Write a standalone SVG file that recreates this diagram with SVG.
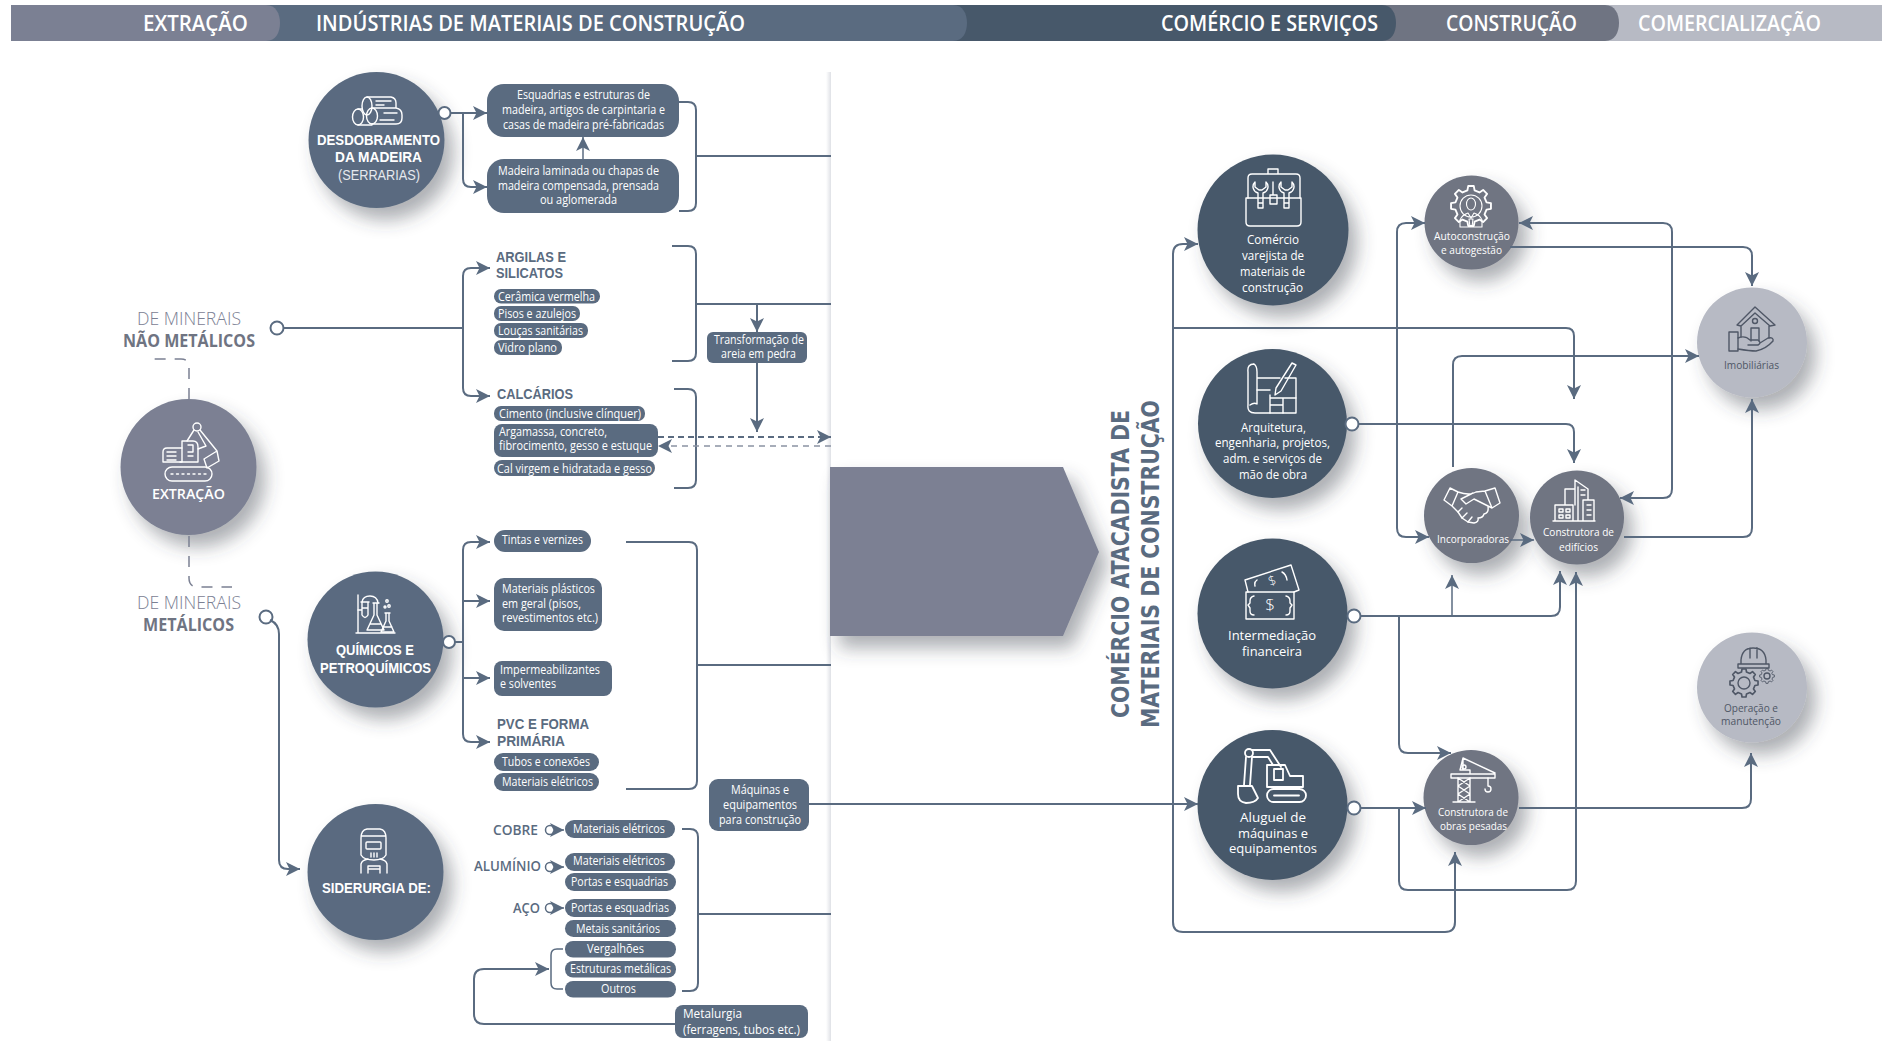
<svg xmlns="http://www.w3.org/2000/svg" width="1882" height="1041" viewBox="0 0 1882 1041">
<style>
text{font-family:"Open Sans","Noto Sans","Liberation Sans",sans-serif}
.h{font-size:21px;font-weight:600;fill:#fff}
.b{font-size:12.5px;fill:#fff}
.c{font-size:13.5px;fill:#fff}
.s{font-size:10.5px;fill:#fff}
.sd{font-size:10.5px;fill:#4f5766}
.nh{font-family:"Liberation Sans",sans-serif;font-size:15px;font-weight:700;fill:#fff}
.nl{font-family:"Liberation Sans",sans-serif;font-size:15px;font-weight:400;fill:#e6e9ee}
.g{font-family:"Liberation Sans",sans-serif;font-size:14.200px;font-weight:700;fill:#5a6b80}
.m{font-size:18.5px;font-weight:300;fill:#7b8093}
.mb{font-size:18.5px;font-weight:700;fill:#6f7482}
.l{font-size:14px;font-weight:600;fill:#5a6b80}
.v{font-family:"DejaVu Sans",sans-serif;font-size:25px;font-weight:700;fill:#5a6b80}
.box{fill:#5a6b80}
.dark{fill:#47586a}
.mid{fill:#6f7482}
.light{fill:#b7bac4}
.ex{fill:#7b8093}
.ln{fill:none;stroke:#5a6b80;stroke-width:2}
.th{fill:none;stroke:#5a6b80;stroke-width:1.5}
.a{marker-end:url(#ar)}
.a2{marker-start:url(#ar);marker-end:url(#ar)}
.o{fill:#fff;stroke:#5a6b80;stroke-width:2}
.ic{fill:none;stroke:#fff;stroke-width:1.4;stroke-linejoin:round;stroke-linecap:round}
.icd{fill:none;stroke:#4f5766;stroke-width:1.4;stroke-linejoin:round;stroke-linecap:round}
</style>
<defs>
<filter id="sh" x="-40%" y="-40%" width="190%" height="190%"><feDropShadow dx="9" dy="12" stdDeviation="9" flood-color="#3a4250" flood-opacity=".42"/></filter>
<linearGradient id="edge" x1="0" x2="1" y1="0" y2="0"><stop offset="0" stop-color="#fff"/><stop offset="1" stop-color="#dfe1e6"/></linearGradient>
<marker id="ar" viewBox="0 0 14 14" refX="14" refY="7" markerUnits="userSpaceOnUse" markerWidth="15" markerHeight="14" orient="auto-start-reverse"><path d="M0,0 L14,7 L0,14 L3.5,7Z" fill="#5a6b80"/></marker>
<polygon id="gear" points="9.26,-2.14 11.88,-1.67 11.88,1.67 9.26,2.14 8.06,5.03 9.58,7.22 7.22,9.58 5.03,8.06 2.14,9.26 1.67,11.88 -1.67,11.88 -2.14,9.26 -5.03,8.06 -7.22,9.58 -9.58,7.22 -8.06,5.03 -9.26,2.14 -11.88,1.67 -11.88,-1.67 -9.26,-2.14 -8.06,-5.03 -9.58,-7.22 -7.22,-9.58 -5.03,-8.06 -2.14,-9.26 -1.67,-11.88 1.67,-11.88 2.14,-9.26 5.03,-8.06 7.22,-9.58 9.58,-7.22 8.06,-5.03"/>
</defs>

<g id="header">
<rect x="11" y="5" width="1871" height="36" fill="#b7bac4"/>
<path d="M11 5 H1605 C1615 5 1619 14 1619 23 C1619 32 1615 41 1605 41 H11Z" fill="#6f7482"/>
<path d="M11 5 H1382 C1392 5 1396 14 1396 23 C1396 32 1392 41 1382 41 H11Z" fill="#47586a"/>
<path d="M11 5 H953 C963 5 967 14 967 23 C967 32 963 41 953 41 H11Z" fill="#5a6b80"/>
<path d="M11 5 H266 C276 5 280 14 280 23 C280 32 276 41 266 41 H11Z" fill="#7b8093"/>
<text class="h" x="143" y="31" textLength="105" lengthAdjust="spacingAndGlyphs">EXTRAÇÃO</text>
<text class="h" x="316" y="31" textLength="429" lengthAdjust="spacingAndGlyphs">INDÚSTRIAS DE MATERIAIS DE CONSTRUÇÃO</text>
<text class="h" x="1161" y="31" textLength="217" lengthAdjust="spacingAndGlyphs">COMÉRCIO E SERVIÇOS</text>
<text class="h" x="1446" y="31" textLength="131" lengthAdjust="spacingAndGlyphs">CONSTRUÇÃO</text>
<text class="h" x="1638" y="31" textLength="183" lengthAdjust="spacingAndGlyphs">COMERCIALIZAÇÃO</text>
</g>

<g id="panel-edge"><rect x="826" y="72" width="5" height="969" fill="url(#edge)"/></g>

<g id="big-arrow"><polygon class="ex" filter="url(#sh)" points="830,467 1063,467 1099,552 1063,636 830,636"/></g>

<g id="vertical-title">
<text class="v" transform="translate(1129,718) rotate(-90)" textLength="308" lengthAdjust="spacingAndGlyphs">COMÉRCIO ATACADISTA DE</text>
<text class="v" transform="translate(1159,728) rotate(-90)" textLength="328" lengthAdjust="spacingAndGlyphs">MATERIAIS DE CONSTRUÇÃO</text>
</g>

<g id="n-desdobramento">
<circle class="box" cx="376.500" cy="140" r="68" filter="url(#sh)"/>
<g class="ic"><ellipse cx="367" cy="106" rx="5" ry="9"/><ellipse cx="358" cy="117" rx="5.500" ry="8"/><ellipse cx="372" cy="116" rx="5.500" ry="8"/>
<path d="M367 97 H391 Q396 98 396 103 V108 M372 108 H396 Q402 109 402 115 V118 Q402 124 396 124 H372 M358 125 H372 M358 109 H362"/>
<path d="M376 101 H391 M376 105 H384 M384 113 H397 M380 120 H394"/></g>
<text class="nh" x="317" y="145" textLength="123" lengthAdjust="spacingAndGlyphs">DESDOBRAMENTO</text>
<text class="nh" x="335" y="162" textLength="87" lengthAdjust="spacingAndGlyphs">DA MADEIRA</text>
<text class="nl" x="338" y="180" textLength="82" lengthAdjust="spacingAndGlyphs">(SERRARIAS)</text>
<circle class="o" cx="444.500" cy="113" r="6"/>
</g>
<g id="b-esquadrias">
<rect class="box" x="487" y="84" width="192" height="53" rx="17"/>
<text class="b" x="517" y="99" textLength="133" lengthAdjust="spacingAndGlyphs">Esquadrias e estruturas de</text>
<text class="b" x="502" y="114" textLength="163" lengthAdjust="spacingAndGlyphs">madeira, artigos de carpintaria e</text>
<text class="b" x="503" y="129" textLength="161" lengthAdjust="spacingAndGlyphs">casas de madeira pré-fabricadas</text>
</g>
<g id="b-madeira">
<rect class="box" x="487" y="159" width="192" height="54" rx="17"/>
<text class="b" x="498" y="175" textLength="161" lengthAdjust="spacingAndGlyphs">Madeira laminada ou chapas de</text>
<text class="b" x="498" y="190" textLength="161" lengthAdjust="spacingAndGlyphs">madeira compensada, prensada</text>
<text class="b" x="540" y="204" textLength="77" lengthAdjust="spacingAndGlyphs">ou aglomerada</text>
</g>

<g id="n-extracao">
<circle class="ex" cx="188.500" cy="467" r="68" filter="url(#sh)"/>
<g class="ic"><rect x="165" y="467" width="47" height="14" rx="7"/><path d="M171 474 H206" stroke-dasharray="2 3.500"/>
<path d="M182 448 H167 Q163 448 163 452 V462 H182 M167 452 H176 M167 456 H176 M167 460 H176"/>
<path d="M182 462 V441 H193 Q198 441 198 447 V462 H180 M188 445 H193 V452 H188 M188 456 H193"/>
<circle cx="197" cy="427" r="4"/><path d="M187 441 L194 430 M200 430 L217 451 M198 449 L206 446 L198 432 M217 451 L219 461 L207 468 L204 459 Z"/></g>
<text class="l" x="152" y="499" style="fill:#fff" textLength="73" lengthAdjust="spacingAndGlyphs">EXTRAÇÃO</text>
</g>
<g id="l-nao-metalicos">
<text class="m" x="137" y="325" textLength="104" lengthAdjust="spacingAndGlyphs">DE MINERAIS</text>
<text class="mb" x="123" y="347" textLength="132" lengthAdjust="spacingAndGlyphs">NÃO METÁLICOS</text>
<circle class="o" cx="277" cy="328" r="6.500"/>
</g>
<g id="l-metalicos">
<text class="m" x="137" y="609" textLength="104" lengthAdjust="spacingAndGlyphs">DE MINERAIS</text>
<text class="mb" x="143" y="631" textLength="91" lengthAdjust="spacingAndGlyphs">METÁLICOS</text>
<circle class="o" cx="266" cy="617" r="6.500"/>
</g>

<g id="g-argilas">
<text class="g" x="496" y="262" textLength="70" lengthAdjust="spacingAndGlyphs">ARGILAS E</text>
<text class="g" x="496" y="278" textLength="67" lengthAdjust="spacingAndGlyphs">SILICATOS</text>
<rect class="box" x="494" y="289" width="106" height="14.500" rx="7"/><text class="b" x="498" y="300.500" textLength="97" lengthAdjust="spacingAndGlyphs">Cerâmica vermelha</text>
<rect class="box" x="494" y="306" width="86" height="15" rx="7"/><text class="b" x="498" y="317.500" textLength="78" lengthAdjust="spacingAndGlyphs">Pisos e azulejos</text>
<rect class="box" x="494" y="323" width="94" height="15" rx="7"/><text class="b" x="498" y="334.500" textLength="85" lengthAdjust="spacingAndGlyphs">Louças sanitárias</text>
<rect class="box" x="494" y="340" width="68" height="15" rx="7"/><text class="b" x="498" y="351.500" textLength="59" lengthAdjust="spacingAndGlyphs">Vidro plano</text>
</g>
<g id="g-calcarios">
<text class="g" x="497" y="399" textLength="76" lengthAdjust="spacingAndGlyphs">CALCÁRIOS</text>
<rect class="box" x="494" y="406" width="151" height="15" rx="7"/><text class="b" x="499" y="418" textLength="142" lengthAdjust="spacingAndGlyphs">Cimento (inclusive clínquer)</text>
<rect class="box" x="494" y="424" width="164" height="33" rx="8"/>
<text class="b" x="499" y="436" textLength="108" lengthAdjust="spacingAndGlyphs">Argamassa, concreto,</text>
<text class="b" x="499" y="450" textLength="153" lengthAdjust="spacingAndGlyphs">fibrocimento, gesso e estuque</text>
<rect class="box" x="494" y="460" width="161" height="16" rx="8"/><text class="b" x="497" y="473" textLength="155" lengthAdjust="spacingAndGlyphs">Cal virgem e hidratada e gesso</text>
</g>
<g id="b-transformacao">
<rect class="box" x="707" y="332" width="100" height="31" rx="6"/>
<text class="b" x="714" y="343.500" textLength="90" lengthAdjust="spacingAndGlyphs">Transformação de</text>
<text class="b" x="721" y="358" textLength="75" lengthAdjust="spacingAndGlyphs">areia em pedra</text>
</g>

<g id="n-quimicos">
<circle class="box" cx="375.500" cy="639.500" r="68" filter="url(#sh)"/>
<g class="ic"><path d="M356 633 H395 M358 633 V595"/>
<path d="M362 602 Q363 596 370 596 Q377 596 378 603 M361 602 H369 M362 602 V615 Q365 620 368 615 V602 M362 608 H368 M358 610 H362"/>
<path d="M373 603 H379 M374 603 V615 L367 630 H384 L377 615 V603 M370 624 H381"/>
<path d="M385 613 H390 M386 613 V621 L381 632 H394 L389 621 V613 M383 627 H392"/>
<circle cx="387" cy="601" r="1.200"/><circle cx="389" cy="606" r="1.200"/><circle cx="385" cy="607" r="1"/></g>
<text class="nh" x="336" y="655" textLength="78" lengthAdjust="spacingAndGlyphs">QUÍMICOS E</text>
<text class="nh" x="320" y="673" textLength="111" lengthAdjust="spacingAndGlyphs">PETROQUÍMICOS</text>
<circle class="o" cx="449" cy="642" r="6"/>
</g>
<g id="g-quimicos">
<rect class="box" x="494" y="530" width="97" height="22" rx="11"/><text class="b" x="502" y="544" textLength="81" lengthAdjust="spacingAndGlyphs">Tintas e vernizes</text>
<rect class="box" x="494" y="578" width="108" height="53" rx="10"/>
<text class="b" x="502" y="593" textLength="93" lengthAdjust="spacingAndGlyphs">Materiais plásticos</text>
<text class="b" x="502" y="608" textLength="79" lengthAdjust="spacingAndGlyphs">em geral (pisos,</text>
<text class="b" x="502" y="622" textLength="96" lengthAdjust="spacingAndGlyphs">revestimentos etc.)</text>
<rect class="box" x="494" y="661" width="118" height="35" rx="8"/>
<text class="b" x="500" y="674" textLength="100" lengthAdjust="spacingAndGlyphs">Impermeabilizantes</text>
<text class="b" x="500" y="688" textLength="56" lengthAdjust="spacingAndGlyphs">e solventes</text>
<text class="g" x="497" y="729" textLength="92" lengthAdjust="spacingAndGlyphs">PVC E FORMA</text>
<text class="g" x="497" y="746" textLength="68" lengthAdjust="spacingAndGlyphs">PRIMÁRIA</text>
<rect class="box" x="494" y="753" width="105" height="18" rx="9"/><text class="b" x="502" y="766" textLength="88" lengthAdjust="spacingAndGlyphs">Tubos e conexões</text>
<rect class="box" x="494" y="773" width="105" height="18" rx="9"/><text class="b" x="502" y="786" textLength="91" lengthAdjust="spacingAndGlyphs">Materiais elétricos</text>
</g>
<g id="b-maquinas">
<rect class="box" x="709" y="779" width="100" height="52" rx="9"/>
<text class="b" x="731" y="794" textLength="58" lengthAdjust="spacingAndGlyphs">Máquinas e</text>
<text class="b" x="723" y="809" textLength="74" lengthAdjust="spacingAndGlyphs">equipamentos</text>
<text class="b" x="719" y="824" textLength="82" lengthAdjust="spacingAndGlyphs">para construção</text>
</g>

<g id="n-siderurgia">
<circle class="box" cx="375.500" cy="872" r="68" filter="url(#sh)"/>
<g class="ic"><path d="M367 829 H380 Q386 830 386 838 V855 Q383 860 374 860 Q364 860 361 855 V838 Q361 830 367 829Z M361 836 H386"/><rect x="366" y="842" width="15" height="7" rx="1"/><path d="M371 853 V857 M374 853 V857 M377 853 V857 M361 873 V864 Q362 860 368 859 M387 873 V864 Q386 860 380 859 M368 873 V866 H380 V873 M368 869 H380"/></g>
<text class="nh" x="322" y="893" textLength="109" lengthAdjust="spacingAndGlyphs">SIDERURGIA DE:</text>
</g>
<g id="g-siderurgia">
<text class="l" x="493" y="835" textLength="45" lengthAdjust="spacingAndGlyphs">COBRE</text>
<circle class="o" cx="550" cy="830" r="4.500" style="stroke-width:1.500"/>
<rect class="box" x="565" y="820" width="110" height="18" rx="9"/><text class="b" x="573" y="833" textLength="92" lengthAdjust="spacingAndGlyphs">Materiais elétricos</text>
<text class="l" x="474" y="871" textLength="67" lengthAdjust="spacingAndGlyphs">ALUMÍNIO</text>
<circle class="o" cx="550" cy="867" r="4.500" style="stroke-width:1.500"/>
<rect class="box" x="565" y="853" width="110" height="18" rx="9"/><text class="b" x="573" y="865" textLength="92" lengthAdjust="spacingAndGlyphs">Materiais elétricos</text>
<rect class="box" x="565" y="873" width="111" height="18" rx="9"/><text class="b" x="571" y="886" textLength="97" lengthAdjust="spacingAndGlyphs">Portas e esquadrias</text>
<text class="l" x="513" y="913" textLength="27" lengthAdjust="spacingAndGlyphs">AÇO</text>
<circle class="o" cx="550" cy="908" r="4.500" style="stroke-width:1.500"/>
<rect class="box" x="565" y="899" width="111" height="18" rx="9"/><text class="b" x="571" y="912" textLength="98" lengthAdjust="spacingAndGlyphs">Portas e esquadrias</text>
<rect class="box" x="565" y="920" width="111" height="17" rx="8.500"/><text class="b" x="576" y="933" textLength="84" lengthAdjust="spacingAndGlyphs">Metais sanitários</text>
<rect class="box" x="565" y="941" width="111" height="16.500" rx="8"/><text class="b" x="587" y="953" textLength="57" lengthAdjust="spacingAndGlyphs">Vergalhões</text>
<rect class="box" x="565" y="961" width="111" height="16.500" rx="8"/><text class="b" x="570" y="973" textLength="101" lengthAdjust="spacingAndGlyphs">Estruturas metálicas</text>
<rect class="box" x="565" y="981" width="111" height="16.500" rx="8"/><text class="b" x="601" y="993" textLength="35" lengthAdjust="spacingAndGlyphs">Outros</text>
</g>
<g id="b-metalurgia">
<rect class="box" x="675" y="1005" width="133" height="33" rx="8"/>
<text class="b" x="683" y="1018" textLength="59" lengthAdjust="spacingAndGlyphs">Metalurgia</text>
<text class="b" x="683" y="1034" textLength="117" lengthAdjust="spacingAndGlyphs">(ferragens, tubos etc.)</text>
</g>

<g id="n-comercio">
<circle class="dark" cx="1273" cy="230" r="75.500" filter="url(#sh)"/>
<g class="ic"><path d="M1268 174 V169 H1278 V174 M1248 198 V178 Q1248 174 1252 174 H1296 Q1300 174 1300 178 V198"/><path d="M1246 198 H1301 V222 Q1301 226 1297 226 H1250 Q1246 226 1246 222Z"/>
<path d="M1255 182 a6.500 6.500 0 0 0 3 11 V208 H1263 V193 a6.500 6.500 0 0 0 3 -11 V187 L1262 190 H1259 L1255 187Z M1281 182 a6.500 6.500 0 0 0 3 11 V208 H1289 V193 a6.500 6.500 0 0 0 3 -11 V187 L1288 190 H1285 L1281 187Z M1273 182 V195 M1270 195 H1277 V204 H1270Z M1258 203 H1263 M1284 203 H1289"/></g>
<text class="c" x="1247" y="244" textLength="52" lengthAdjust="spacingAndGlyphs">Comércio</text>
<text class="c" x="1242" y="260" textLength="62" lengthAdjust="spacingAndGlyphs">varejista de</text>
<text class="c" x="1240" y="276" textLength="65" lengthAdjust="spacingAndGlyphs">materiais de</text>
<text class="c" x="1242" y="292" textLength="61" lengthAdjust="spacingAndGlyphs">construção</text>
</g>
<g id="n-arquitetura">
<circle class="dark" cx="1272.500" cy="423.500" r="74.500" filter="url(#sh)"/>
<g class="ic"><path d="M1254 364 Q1247 364 1248 372 V405 Q1247 413 1255 413 H1296 V378 H1285 M1254 364 Q1257 366 1257 372 V404 Q1254 402 1250 405 M1257 378 H1280"/>
<path d="M1296 365 L1292 363 L1276 388 L1275 395 L1281 391Z M1270 395 V413 M1270 398 H1296 M1270 405 H1283 M1257 390 H1270 M1283 398 V413"/></g>
<text class="c" x="1241" y="432" textLength="65" lengthAdjust="spacingAndGlyphs">Arquitetura,</text>
<text class="c" x="1215" y="447" textLength="115" lengthAdjust="spacingAndGlyphs">engenharia, projetos,</text>
<text class="c" x="1223" y="463" textLength="99" lengthAdjust="spacingAndGlyphs">adm. e serviços de</text>
<text class="c" x="1239" y="479" textLength="68" lengthAdjust="spacingAndGlyphs">mão de obra</text>
<circle class="o" cx="1352" cy="424" r="6.500"/>
</g>
<g id="n-intermediacao">
<circle class="dark" cx="1272.500" cy="613.500" r="75" filter="url(#sh)"/>
<g class="ic"><rect x="1246" y="592" width="48" height="27"/><path d="M1254 596 Q1250 597 1250 601 V603 L1248 605 L1250 608 V611 Q1250 615 1254 615 M1286 596 Q1290 597 1290 601 V603 L1292 605 L1290 608 V611 Q1290 615 1286 615"/>
<path d="M1248 592 L1245 580 L1291 565 L1299 590 L1294 592 M1257 580 Q1254 582 1255 586 M1282 572 Q1286 574 1287 580"/></g>
<text x="1270" y="611" font-size="17" font-weight="300" fill="#fff" text-anchor="middle">$</text>
<text x="1272" y="585" font-size="13" font-weight="300" fill="#fff" text-anchor="middle" transform="rotate(-18 1272 580)">$</text>
<text class="c" x="1228" y="640" textLength="88" lengthAdjust="spacingAndGlyphs">Intermediação</text>
<text class="c" x="1242" y="656" textLength="60" lengthAdjust="spacingAndGlyphs">financeira</text>
<circle class="o" cx="1354" cy="616" r="6.500"/>
</g>
<g id="n-aluguel">
<circle class="dark" cx="1272.500" cy="805" r="75" filter="url(#sh)"/>
<g class="ic" style="stroke-width:1.800"><circle cx="1249" cy="753" r="4"/><path d="M1252 750 H1270 L1281 767 M1253 757 H1268 L1273 765 M1246 757 L1244 785 M1252 757 L1250 785 M1238 786 H1252 L1258 798 Q1255 803 1246 803 Q1238 802 1238 794Z"/>
<path d="M1267 787 V765 H1285 L1290 776 H1303 V787Z M1274 769 H1283 V780 H1274Z"/><rect x="1267" y="789" width="39" height="13" rx="6.500"/><path d="M1274 795.500 H1299"/></g>
<text class="c" x="1240" y="822" textLength="66" lengthAdjust="spacingAndGlyphs">Aluguel de</text>
<text class="c" x="1238" y="838" textLength="70" lengthAdjust="spacingAndGlyphs">máquinas e</text>
<text class="c" x="1229" y="853" textLength="88" lengthAdjust="spacingAndGlyphs">equipamentos</text>
<circle class="o" cx="1354" cy="808" r="6.500"/>
</g>

<g id="n-autoconstrucao">
<circle class="mid" cx="1471.500" cy="222.500" r="47" filter="url(#sh)"/>
<g class="ic" style="stroke-width:1.100"><use href="#gear" transform="translate(1471,206) scale(1.680)"/><circle cx="1471" cy="206" r="11"/><ellipse cx="1471" cy="204" rx="4.500" ry="6"/><path d="M1460 227 V220 Q1462 215 1468 213 L1471 218 L1474 213 Q1480 215 1482 220 V227 Z M1469 219 H1473 L1472 227 H1470Z"/></g>
<text class="s" x="1434" y="240" textLength="76" lengthAdjust="spacingAndGlyphs">Autoconstrução</text>
<text class="s" x="1441" y="254" textLength="61" lengthAdjust="spacingAndGlyphs">e autogestão</text>
</g>
<g id="n-imobiliarias">
<circle class="light" cx="1752" cy="342.500" r="55" filter="url(#sh)"/>
<g class="icd"><path d="M1737 325 L1755 307 L1775 325 L1770 326 L1755 313 L1741 326Z M1741 326 V337 M1769 326 V338"/><circle cx="1755" cy="321" r="2.500"/><path d="M1751 341 V328 H1759 V341"/><rect x="1729" y="332" width="9" height="19"/><path d="M1738 338 Q1745 335 1750 340 H1758 Q1762 343 1758 345 H1748 M1738 349 Q1750 351 1756 351 Q1766 349 1773 341 Q1774 337 1768 338 L1760 343"/></g>
<text class="sd" x="1724" y="369" textLength="55" lengthAdjust="spacingAndGlyphs">Imobiliárias</text>
</g>
<g id="n-incorporadoras">
<circle class="mid" cx="1471.500" cy="515.500" r="47.500" filter="url(#sh)"/>
<g class="ic"><path d="M1444 500 L1450 488 L1458 492 L1452 506Z M1500 503 L1495 488 L1485 491 L1492 508Z M1458 492 Q1470 496 1476 492 L1485 491 M1473 493 L1461 499 L1466 504 L1474 499 L1492 508 M1452 506 L1458 512 L1462 518 L1468 522 L1474 523 Q1479 522 1478 518 M1478 518 Q1483 518 1484 514 M1484 514 Q1489 513 1488 507"/><path d="M1458 512 L1462 508 M1462 518 L1467 513 M1468 522 L1472 517"/></g>
<text class="s" x="1437" y="543" textLength="72" lengthAdjust="spacingAndGlyphs">Incorporadoras</text>
</g>
<g id="n-edificios">
<circle class="mid" cx="1577" cy="517.500" r="47" filter="url(#sh)"/>
<g class="ic"><path d="M1553 521 H1595 M1555 521 V505 H1573 V521 M1565 505 V489 H1575 M1575 505 V480 L1588 489 V500 M1583 521 V500 H1594 V521 M1578 487 V521"/><path d="M1559 509 h4 v3 h-4z M1566 509 h4 v3 h-4z M1559 515 h4 v3 h-4z M1566 515 h4 v3 h-4z M1581 490 h4 M1581 495 h4 M1587 505 h4 M1587 510 h4 M1587 515 h4"/></g>
<text class="s" x="1543" y="536" textLength="71" lengthAdjust="spacingAndGlyphs">Construtora de</text>
<text class="s" x="1559" y="551" textLength="39" lengthAdjust="spacingAndGlyphs">edifícios</text>
</g>
<g id="n-operacao">
<circle class="light" cx="1752" cy="687.500" r="55" filter="url(#sh)"/>
<g class="icd"><path d="M1741 664 V660 Q1742 648 1753 648 Q1765 648 1766 660 V664 M1738 664 H1769 V668 H1738Z M1750 648 V658 M1757 648 V658"/><use href="#gear" transform="translate(1744,683) scale(1.180)"/><circle cx="1744" cy="683" r="6"/><use href="#gear" transform="translate(1767,676) scale(.620)"/><circle cx="1767" cy="676" r="3"/></g>
<text class="sd" x="1724" y="712" textLength="54" lengthAdjust="spacingAndGlyphs">Operação e</text>
<text class="sd" x="1721" y="725" textLength="60" lengthAdjust="spacingAndGlyphs">manutenção</text>
</g>
<g id="n-obras">
<circle class="mid" cx="1471" cy="797.500" r="47.500" filter="url(#sh)"/>
<g class="ic"><path d="M1463 758 V770 M1451 774 H1495 V778 H1451Z M1460 770 L1463 758 L1495 773 M1460 770 H1470 V774"/><circle cx="1464" cy="767" r="2"/><path d="M1458 778 V802 M1470 778 V802 M1458 778 L1470 786 L1458 794 L1470 802 M1470 778 L1458 786 L1470 794 L1458 802 M1453 802 H1475 M1488 778 V786 M1488 786 a3 3 0 1 1 -3 3"/></g>
<text class="s" x="1438" y="816" textLength="70" lengthAdjust="spacingAndGlyphs">Construtora de</text>
<text class="s" x="1440" y="830" textLength="67" lengthAdjust="spacingAndGlyphs">obras pesadas</text>
</g>

<g id="connectors">
<path class="ln a" d="M451 113 H487"/>
<path class="ln a" d="M463 113 V179 Q463 187 471 187 H487"/>
<path class="th a" d="M583 159 V137"/>
<path class="ln" d="M679 102 H688 Q696 102 696 110 V203 Q696 211 688 211 H679"/>
<path class="ln" d="M696 156 H831"/>
<path class="ln" d="M284 328 H463"/>
<path class="ln a" d="M463 328 V276 Q463 268 471 268 H490"/>
<path class="ln a" d="M463 328 V388 Q463 396 471 396 H490"/>
<path class="ln" d="M672 246 H688 Q696 246 696 254 V353 Q696 361 688 361 H672"/>
<path class="ln" d="M696 304 H831"/>
<path class="ln a" d="M757 304 V332"/>
<path class="ln a" d="M757 363 V432"/>
<path class="ln" d="M674 389 H688 Q696 389 696 397 V480 Q696 488 688 488 H674"/>
<path class="ln a" d="M658 437 H831" stroke-dasharray="6 4"/>
<path class="a" d="M831 446 H658" fill="none" stroke="#8a93a3" stroke-width="1.5" stroke-dasharray="6 5"/>
<path d="M189 399 V367 Q189 359 181 359 H146" fill="none" stroke="#7b8093" stroke-width="1.5" stroke-dasharray="11 9"/>
<path d="M189 536 V578 Q189 587 198 587 H232" fill="none" stroke="#7b8093" stroke-width="1.5" stroke-dasharray="11 9"/>
<path class="ln" d="M455 642 H463"/>
<path class="ln a" d="M463 642 V550 Q463 542 471 542 H490"/>
<path class="ln a" d="M463 601 H490"/>
<path class="ln a" d="M463 678 H490"/>
<path class="ln a" d="M463 642 V734 Q463 742 471 742 H490"/>
<path class="ln" d="M626 542 H689 Q697 542 697 550 V781 Q697 789 689 789 H626"/>
<path class="ln" d="M697 665 H831"/>
<path class="ln a" d="M270 620 Q279 624 279 634 V860 Q279 869 288 869 H300"/>
<path class="th a" d="M554 830 H564"/>
<path class="th a" d="M554 867 H564"/>
<path class="th a" d="M554 908 H564"/>
<path class="ln" d="M682 829 H690 Q698 829 698 837 V983 Q698 991 690 991 H682"/>
<path class="ln" d="M698 914 H831"/>
<path class="th" d="M563 949 H557 Q551 949 551 955 V983 Q551 989 557 989 H563"/>
<path class="ln a" d="M675 1024 H484 Q474 1024 474 1014 V979 Q474 969 484 969 H549"/>
<path class="ln a" d="M809 804 H1198"/>
<path class="ln a" d="M1173 328 V254 Q1173 244 1183 244 H1198"/>
<path class="ln a" d="M1173 328 V922 Q1173 932 1183 932 H1445 Q1455 932 1455 922 V852"/>
<path class="ln a" d="M1173 328 H1566 Q1574 328 1574 336 V399"/>
<path class="ln a" d="M1359 424 H1566 Q1574 424 1574 432 V463"/>
<path class="ln a2" d="M1429 537 H1406 Q1397 537 1397 528 V232 Q1397 223 1406 223 H1425"/>
<path class="ln a" d="M1453 467 V365 Q1453 356 1462 356 H1699"/>
<path class="ln a2" d="M1620 498 H1663 Q1672 498 1672 489 V232 Q1672 223 1663 223 H1519"/>
<path class="ln a" d="M1510 247 H1743 Q1752 247 1752 256 V286"/>
<path class="ln a" d="M1624 537 H1743 Q1752 537 1752 528 V399"/>
<path class="th a" d="M1510 540 H1534"/>
<path class="ln a" d="M1361 616 H1551 Q1560 616 1560 607 V571"/>
<path class="th a" d="M1452 616 V575"/>
<path class="ln a" d="M1399 616 V744 Q1399 753 1408 753 H1451"/>
<path class="ln a" d="M1399 808 V881 Q1399 890 1408 890 H1567 Q1576 890 1576 881 V572"/>
<path class="ln a" d="M1361 808 H1426"/>
<path class="ln a" d="M1519 808 H1742 Q1751 808 1751 799 V753"/>
</g>
</svg>
